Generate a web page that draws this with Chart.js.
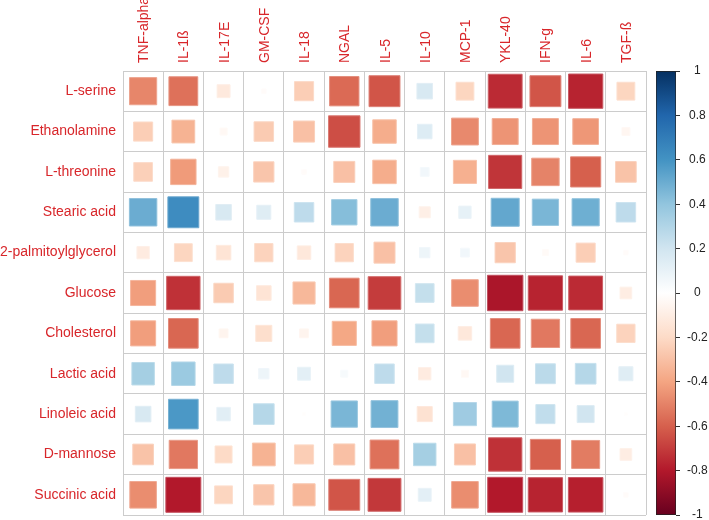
<!DOCTYPE html>
<html>
<head>
<meta charset="utf-8">
<script src="https://cdn.jsdelivr.net/npm/chart.js@4/dist/chart.umd.min.js"></script>
<style>
  body { margin: 0; background: #fff; }
  #wrap { position: relative; width: 709px; height: 520px; }
  #corr { position: absolute; left: 0; top: 0; }
  #bar { position: absolute; left: 640px; top: 0; }
</style>
</head>
<body>
<div id="wrap">
  <canvas id="corr" width="709" height="520"></canvas>
  <canvas id="bar" width="69" height="520"></canvas>
</div>
<script>
// Correlation matrix: metabolites (rows) vs cytokines (columns)
const cols = ['TNF-alpha', 'IL-1ß', 'IL-17E', 'GM-CSF', 'IL-18', 'NGAL', 'IL-5', 'IL-10', 'MCP-1', 'YKL-40', 'IFN-g', 'IL-6', 'TGF-ß'];
const rows = ['L-serine', 'Ethanolamine', 'L-threonine', 'Stearic acid', '2-palmitoylglycerol', 'Glucose', 'Cholesterol', 'Lactic acid', 'Linoleic acid', 'D-mannose', 'Succinic acid'];

const lSerine      = [-0.49, -0.55, -0.12, -0.02, -0.25, -0.57, -0.63,  0.17, -0.22, -0.75, -0.63, -0.77, -0.22];
const ethanolamine = [-0.25, -0.35, -0.04, -0.26, -0.30, -0.65, -0.37,  0.15, -0.48, -0.45, -0.45, -0.44, -0.05];
const lThreonine   = [-0.24, -0.43, -0.08, -0.28, -0.02, -0.30, -0.37,  0.06, -0.36, -0.72, -0.50, -0.60, -0.29];
const stearicAcid  = [ 0.50,  0.63,  0.17,  0.14,  0.26,  0.43,  0.50, -0.09,  0.11,  0.52,  0.46,  0.49,  0.26];
const palmitoylgly = [-0.11, -0.22, -0.15, -0.23, -0.13, -0.23, -0.30,  0.08,  0.06, -0.28, -0.03, -0.25, -0.02];
const glucose      = [-0.42, -0.73, -0.26, -0.15, -0.33, -0.58, -0.70,  0.24, -0.47, -0.82, -0.77, -0.75, -0.10];
const cholesterol  = [-0.42, -0.58, -0.06, -0.18, -0.06, -0.39, -0.42,  0.24, -0.13, -0.58, -0.53, -0.58, -0.23];
const lacticAcid   = [ 0.34,  0.37,  0.26,  0.08,  0.12,  0.04,  0.26, -0.11, -0.04,  0.20,  0.27,  0.29,  0.14];
const linoleicAcid = [ 0.17,  0.58,  0.13,  0.29, -0.01,  0.46,  0.48, -0.16,  0.36,  0.45,  0.25,  0.20, -0.01];
const dMannose     = [-0.29, -0.53, -0.20, -0.35, -0.25, -0.30, -0.55,  0.34, -0.30, -0.73, -0.60, -0.52, -0.10];
const succinicAcid = [-0.47, -0.80, -0.22, -0.28, -0.33, -0.63, -0.71,  0.12, -0.47, -0.80, -0.77, -0.78, -0.02];

const matrix = [lSerine, ethanolamine, lThreonine, stearicAcid, palmitoylgly, glucose, cholesterol, lacticAcid, linoleicAcid, dMannose, succinicAcid];

// colorbar ticks
const barTicks = [1, 0.8, 0.6, 0.4, 0.2, 0, -0.2, -0.4, -0.6, -0.8, -1];

// RdBu palette, -1 .. 1
const palette = ['#67001F', '#B2182B', '#D6604D', '#F4A582', '#FDDBC7', '#FFFFFF', '#D1E5F0', '#92C5DE', '#4393C3', '#2166AC', '#053061'];

function hexRgb(h){
    return [parseInt(h.slice(1,3),16), parseInt(h.slice(3,5),16), parseInt(h.slice(5,7),16)];
}
function colorFor(v, mixWhite){
    const t = (Math.max(-1, Math.min(1, v)) + 1) / 2 * (palette.length - 1);
    const i = Math.min(palette.length - 2, Math.floor(t));
    const f = t - i;
    const a = hexRgb(palette[i]), b = hexRgb(palette[i+1]);
    let c = a.map((x, k) => x + (b[k] - x) * f);
    if(mixWhite) c = c.map(x => x + (255 - x) * mixWhite);
    return 'rgb(' + c.map(Math.round).join(',') + ')';
}

const points = [];
rows.forEach((r, ri) => {
    cols.forEach((c, ci) => {
        points.push({ x: c, y: r, v: matrix[ri][ci] });
    });
});

const labelRed = '#D8262A';
const gridGray = '#CCCCCC';

// no extra label padding, so the chart area lands where we want it
function noPad(s){ s.paddingTop = 0; s.paddingBottom = 0; s.paddingLeft = 0; s.paddingRight = 0; }

new Chart(document.getElementById('corr'), {
    type: 'scatter',
    data: {
        datasets: [{
            data: points,
            pointStyle: 'rect',
            pointRadius: ctx => {
                const area = ctx.chart.chartArea;
                if(!area || !ctx.raw) return 0;
                const cw = (area.right - area.left) / cols.length;
                const ch = (area.bottom - area.top) / rows.length;
                const side = Math.sqrt(Math.abs(ctx.raw.v)) * Math.min(cw, ch) - 1;
                return Math.max(0.5, side) / Math.SQRT2;
            },
            backgroundColor: ctx => ctx.raw ? colorFor(ctx.raw.v) : '#fff',
            borderColor: ctx => ctx.raw ? colorFor(ctx.raw.v, 0.25) : '#fff',
            borderWidth: 1
        }]
    },
    options: {
        responsive: false,
        devicePixelRatio: 1,
        animation: false,
        events: [],
        layout: { padding: { left: 0, top: 0, right: 63, bottom: 5 } },
        plugins: { legend: { display: false }, tooltip: { enabled: false } },
        scales: {
            x: {
                type: 'category',
                labels: cols,
                position: 'top',
                offset: true,
                grid: { offset: true, color: gridGray, drawTicks: false },
                border: { color: gridGray },
                ticks: {
                    color: labelRed,
                    font: { family: 'Liberation Sans, Arial, sans-serif', size: 14 },
                    minRotation: 90, maxRotation: 90,
                    padding: 8,
                    labelOffset: 18,
                    autoSkip: false
                },
                afterFit: s => { noPad(s); s.height = 71; }
            },
            y: {
                type: 'category',
                labels: rows,
                offset: true,
                grid: { offset: true, color: gridGray, drawTicks: false },
                border: { color: gridGray },
                ticks: {
                    color: labelRed,
                    font: { family: 'Liberation Sans, Arial, sans-serif', size: 14 },
                    padding: 7,
                    autoSkip: false
                },
                afterFit: s => { noPad(s); s.width = 123; }
            }
        }
    }
});

// Color legend bar
new Chart(document.getElementById('bar'), {
    type: 'bar',
    data: {
        labels: [''],
        datasets: [{
            data: [[-1, 1]],
            barPercentage: 1,
            categoryPercentage: 1,
            borderColor: '#222',
            borderWidth: 1,
            borderSkipped: false,
            backgroundColor: ctx => {
                const chart = ctx.chart;
                const ys = chart.scales.y;
                if(!chart.chartArea || !ys) return '#888';
                const g = chart.ctx.createLinearGradient(0, ys.getPixelForValue(-1), 0, ys.getPixelForValue(1));
                palette.forEach((c, i) => g.addColorStop(i / (palette.length - 1), c));
                return g;
            }
        }]
    },
    options: {
        responsive: false,
        devicePixelRatio: 1,
        animation: false,
        events: [],
        layout: { padding: { left: 16, top: 71, right: 0, bottom: 5 } },
        plugins: { legend: { display: false }, tooltip: { enabled: false } },
        scales: {
            x: { display: false },
            y: {
                position: 'right',
                min: -1, max: 1,
                afterBuildTicks: s => { s.ticks = barTicks.map(v => ({ value: v })); },
                grid: { drawOnChartArea: false, drawTicks: true, tickLength: 4, color: '#333' },
                border: { display: false },
                ticks: {
                    color: '#222',
                    font: { family: 'Liberation Sans, Arial, sans-serif', size: 12 },
                    padding: 7,
                    crossAlign: 'center',
                    callback: v => String(Math.round(v * 10) / 10)
                },
                afterFit: s => { noPad(s); s.width = 33; }
            }
        }
    }
});
</script>
</body>
</html>
